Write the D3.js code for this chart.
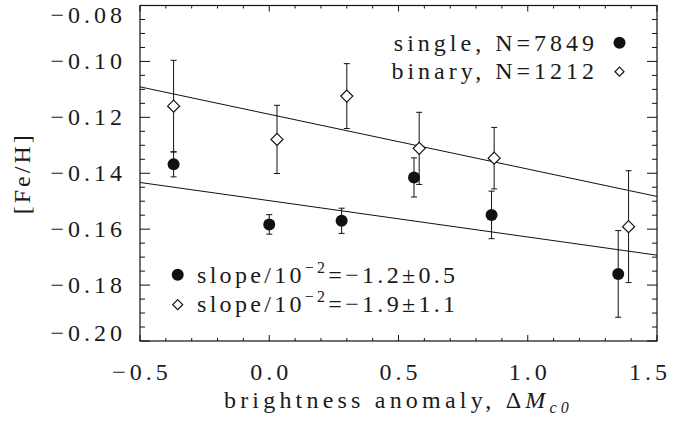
<!DOCTYPE html>
<html>
<head>
<meta charset="utf-8">
<script src="https://cdn.jsdelivr.net/npm/d3@7"></script>
<style>
  html, body { margin: 0; padding: 0; background: #fff; }
  svg text { fill: #1a1a1a; }
</style>
</head>
<body>
<svg id="chart" width="678" height="426"></svg>
<script>
  // brightness anomaly (x), [Fe/H] (y) and its error for each bin
  var singleX   = [-0.37, 0.00, 0.28, 0.56, 0.86, 1.35];
  var singleY   = [-0.1368, -0.1583, -0.1570, -0.1415, -0.1549, -0.1760];
  var singleErr = [0.0045, 0.0035, 0.0045, 0.0070, 0.0085, 0.0155];

  var binaryX   = [-0.37, 0.03, 0.30, 0.58, 0.87, 1.39];
  var binaryY   = [-0.1160, -0.1279, -0.1124, -0.1311, -0.1346, -0.1591];
  var binaryErr = [0.0164, 0.0122, 0.0116, 0.0129, 0.0110, 0.0200];

  // linear fits: [intercept at x=0, slope]
  var singleFit = [-0.1498, -0.0130];
  var binaryFit = [-0.1189, -0.0196];

  var xTicks = [-0.5, 0.0, 0.5, 1.0, 1.5];
  var yTicks = [-0.08, -0.10, -0.12, -0.14, -0.16, -0.18, -0.20];

  var FONT = "'Liberation Serif', 'DejaVu Serif', 'Times New Roman', serif";

  var svg = d3.select("#chart").style("font-family", FONT);
  var L = 140, R = 657, T = 5.5, B = 341;

  var x = d3.scaleLinear().domain([-0.5, 1.5]).range([L, R]);
  var y = d3.scaleLinear().domain([-0.20, -0.08]).range([B, T]);

  var ink = "#111";

  function label(px, py, str, anchor) {
    return svg.append("text")
      .attr("x", px).attr("y", py)
      .attr("text-anchor", anchor || "start")
      .attr("font-family", FONT)
      .attr("font-size", 24).attr("letter-spacing", 4)
      .text(str);
  }

  // frame
  svg.append("rect")
    .attr("x", L).attr("y", T)
    .attr("width", R - L).attr("height", B - T)
    .attr("fill", "none").attr("stroke", ink).attr("stroke-width", 1.2);

  var ticks = svg.append("g").attr("stroke", ink).attr("stroke-width", 1);

  // x ticks: major every 0.5, minor every 0.1, on bottom and top
  x.ticks(20).forEach(function(v) {
    var major = xTicks.some(function(t) { return Math.abs(t - v) < 1e-9; });
    var len = major ? 6 : 3;
    var px = x(v);
    ticks.append("line").attr("x1", px).attr("x2", px).attr("y1", B).attr("y2", B - len);
    ticks.append("line").attr("x1", px).attr("x2", px).attr("y1", T).attr("y2", T + len);
  });

  // y ticks: major every 0.02, minor every 0.005, on left and right
  d3.range(0, 25).forEach(function(i) {
    var v = -0.20 + i * 0.005;
    var major = i % 4 === 0;
    var len = major ? 10 : 5;
    var py = y(v);
    ticks.append("line").attr("x1", L).attr("x2", L + len).attr("y1", py).attr("y2", py);
    ticks.append("line").attr("x1", R).attr("x2", R - len).attr("y1", py).attr("y2", py);
  });

  var fmt = function(v) { return d3.format(".2f")(v).replace("-", "\u2212"); };
  var fmtX = function(v) { return d3.format(".1f")(v).replace("-", "\u2212"); };

  // y tick labels, kept inside the vertical extent of the frame
  yTicks.forEach(function(v) {
    var py = Math.max(T + 9, Math.min(B - 8, y(v)));
    label(126, py + 8, fmt(v), "end");
  });

  // x tick labels, the last one pulled in so it stays on the page
  xTicks.forEach(function(v) {
    label(Math.min(x(v) + 2, 650), 380, fmtX(v), "middle");
  });

  // axis titles
  var xt = label((L + R) / 2, 408, null, "middle").attr("letter-spacing", 4.2);
  xt.append("tspan").text("brightness  anomaly,  \u0394");
  xt.append("tspan").attr("font-style", "italic").text("M");
  xt.append("tspan").attr("font-style", "italic").attr("font-size", 16).attr("dy", 5).text("c0");

  label(0, 0, "[Fe/H]", "middle")
    .attr("transform", "translate(30," + ((T + B) / 2) + ") rotate(-90)")
    .attr("letter-spacing", 3);

  // fit lines
  [singleFit, binaryFit].forEach(function(f) {
    svg.append("line")
      .attr("x1", x(-0.5)).attr("y1", y(f[0] + f[1] * -0.5))
      .attr("x2", x(1.5)).attr("y2", y(f[0] + f[1] * 1.5))
      .attr("stroke", ink).attr("stroke-width", 1);
  });

  function errorBars(xs, ys, es) {
    var g = svg.append("g").attr("stroke", ink).attr("stroke-width", 1);
    xs.forEach(function(xv, i) {
      var px = x(xv), y0 = y(ys[i] + es[i]), y1 = y(ys[i] - es[i]);
      g.append("line").attr("x1", px).attr("x2", px).attr("y1", y0).attr("y2", y1);
      g.append("line").attr("x1", px - 3).attr("x2", px + 3).attr("y1", y0).attr("y2", y0);
      g.append("line").attr("x1", px - 3).attr("x2", px + 3).attr("y1", y1).attr("y2", y1);
    });
  }

  function diamond(g, px, py, s) {
    g.append("path")
      .attr("d", "M" + px + "," + (py - s) + "L" + (px + s) + "," + py +
                 "L" + px + "," + (py + s) + "L" + (px - s) + "," + py + "Z")
      .attr("fill", "#fff").attr("stroke", ink).attr("stroke-width", 1.2);
  }

  errorBars(binaryX, binaryY, binaryErr);
  errorBars(singleX, singleY, singleErr);

  var pts = svg.append("g");
  singleX.forEach(function(xv, i) {
    pts.append("circle").attr("cx", x(xv)).attr("cy", y(singleY[i])).attr("r", 6).attr("fill", ink);
  });
  binaryX.forEach(function(xv, i) {
    diamond(pts, x(xv), y(binaryY[i]), 6);
  });

  // legend, top right
  label(598, 51, "single,  N=7849", "end");
  svg.append("circle").attr("cx", 619.5).attr("cy", 42.7).attr("r", 6).attr("fill", ink);
  label(598, 79, "binary,  N=1212", "end");
  diamond(svg, 619.5, 71.7, 4.5);

  // slope legend, lower left
  function slopeText(py, txt) {
    var t = label(197, py, null).attr("letter-spacing", 3.3);
    t.append("tspan").text("slope/10");
    t.append("tspan").attr("font-size", 16).attr("dy", -10).text("\u22122");
    t.append("tspan").attr("dy", 10).text("=\u2212" + txt);
  }
  svg.append("circle").attr("cx", 177.7).attr("cy", 274.7).attr("r", 6).attr("fill", ink);
  slopeText(283, "1.2\u00b10.5");
  diamond(svg, 177.7, 304.7, 5);
  slopeText(312, "1.9\u00b11.1");
</script>
</body>
</html>
